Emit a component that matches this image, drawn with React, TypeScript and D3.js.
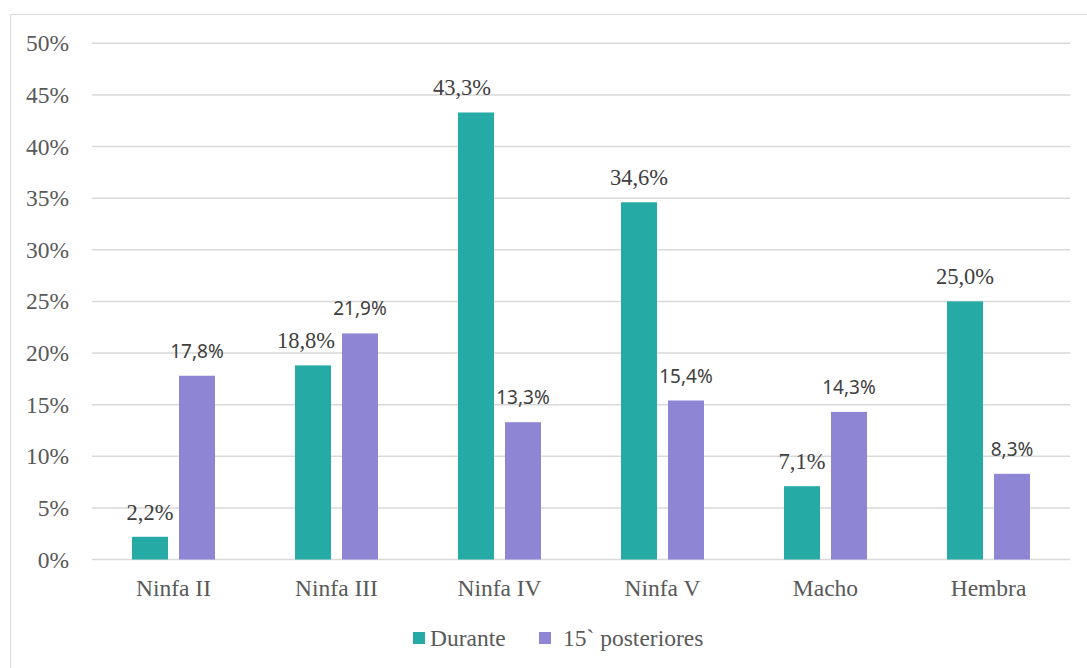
import React from "react";
import * as d3 from "d3";

const categories = ["Ninfa II", "Ninfa III", "Ninfa IV", "Ninfa V", "Macho", "Hembra"];
const durante = [2.2, 18.8, 43.3, 34.6, 7.1, 25.0];
const posteriores = [17.8, 21.9, 13.3, 15.4, 14.3, 8.3];
const yTicks = [0, 5, 10, 15, 20, 25, 30, 35, 40, 45, 50];
const seriesNames = ["Durante", "15` posteriores"];

const W = 1087;
const H = 668;
const TEAL = "#26AAA6";
const PURPLE = "#8E86D4";

export default function App() {
  const x = d3.scaleBand<string>().domain(categories).range([92, 1070]).paddingInner(0).paddingOuter(0);
  const y = d3.scaleLinear().domain([0, 50]).range([559.5, 43.3]);
  const bw = 36;
  const gap = 11;
  const fmt = (v: number) => v.toFixed(1).replace(".", ",") + "%";
  const serif = "Liberation Serif, Times New Roman, serif";
  const sans = "Noto Sans, Open Sans, sans-serif";
  const nudge: Record<string, number> = { "Ninfa III": -7, "Ninfa IV": -14 };
  const axisFs = 23.5;

  return (
    <svg width={W} height={H} style={{ position: "absolute", left: 0, top: 0, background: "#fff" }}>
      <rect x={10.5} y={14.5} width={1100} height={700} fill="#fff" stroke="#d9d9d9" strokeWidth={1} />
      {yTicks.map((t) => (
        <g key={t}>
          <line x1={92} x2={1070} y1={y(t)} y2={y(t)} stroke="#d9d9d9" strokeWidth={1.5} />
          <text x={69} y={y(t) + 8} textAnchor="end" fontFamily={serif} fontSize={axisFs} fill="#595959">
            {t}%
          </text>
        </g>
      ))}
      {categories.map((c, i) => {
        const cx = (x(c) as number) + x.bandwidth() / 2;
        const tx = cx - gap / 2 - bw;
        const px = cx + gap / 2;
        const dv = durante[i];
        const pv = posteriores[i];
        return (
          <g key={c}>
            <rect x={tx} y={y(dv)} width={bw} height={y(0) - y(dv)} fill={TEAL} />
            <rect x={px} y={y(pv)} width={bw} height={y(0) - y(pv)} fill={PURPLE} />
            <text x={tx + bw / 2 + (nudge[c] || 0)} y={y(dv) - 17} textAnchor="middle" fontFamily={serif} fontSize={22.5} fill="#404040">
              {fmt(dv)}
            </text>
            <text x={px + bw / 2} y={y(pv) - 18} textAnchor="middle" fontFamily={sans} fontSize={19} fill="#404040">
              {fmt(pv)}
            </text>
            <text x={cx} y={596} textAnchor="middle" fontFamily={serif} fontSize={axisFs} fill="#595959">
              {c}
            </text>
          </g>
        );
      })}
      <rect x={413} y={632} width={12} height={12} fill={TEAL} />
      <text x={430} y={646} fontFamily={serif} fontSize={axisFs} fill="#595959">{seriesNames[0]}</text>
      <rect x={539} y={632} width={12} height={12} fill={PURPLE} />
      <text x={563} y={646} fontFamily={serif} fontSize={axisFs} fill="#595959">{seriesNames[1]}</text>
    </svg>
  );
}
